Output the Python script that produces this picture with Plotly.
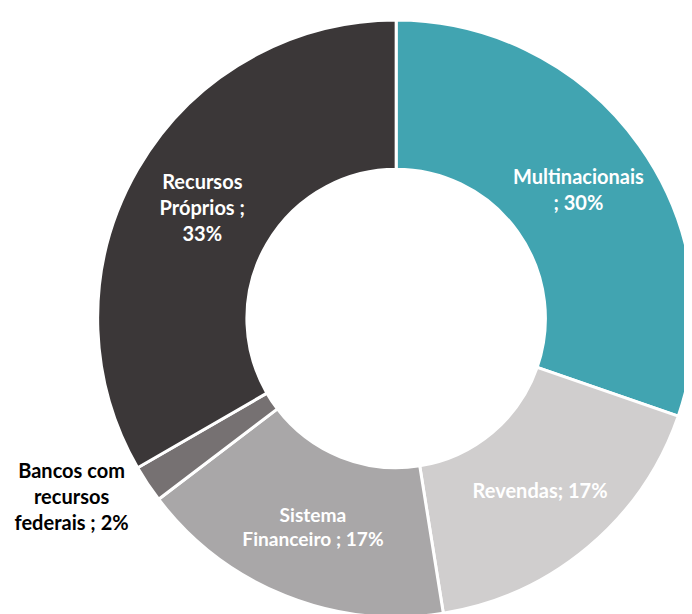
import plotly.graph_objects as go

labels = ["Multinacionais", "Revendas", "Sistema Financeiro",
          "Bancos com recursos federais", "Recursos Próprios"]
values = [30, 17, 17, 2, 33]
text_labels = ["Multinacionais<br>; 30%", "Revendas; 17%", "Sistema<br>Financeiro ; 17%",
               "Bancos com<br>recursos<br>federais ; 2%", "Recursos<br>Próprios ;<br>33%"]
colors = ["#41A4B1", "#D0CECE", "#A9A7A8", "#767172", "#3B3738"]
text_colors = ["white", "white", "white", "black", "white"]
positions = ["inside", "inside", "inside", "outside", "inside"]

fig = go.Figure(
    go.Pie(
        labels=labels,
        values=values,
        text=text_labels,
        textinfo="text",
        textposition=positions,
        insidetextorientation="horizontal",
        hole=0.5,
        sort=False,
        direction="clockwise",
        rotation=0,
        marker=dict(colors=colors, line=dict(color="white", width=3)),
        textfont=dict(family="Lato, Open Sans, sans-serif", size=20, color=text_colors, weight="bold"),
        domain=dict(x=[0.13, 1], y=[0, 1]),
        showlegend=False,
    )
)
fig.update_layout(
    width=692,
    height=614,
    margin=dict(l=0, r=0, t=12, b=0),
    paper_bgcolor="white",
    uniformtext=dict(minsize=18),
)
fig.write_html("out.html")
